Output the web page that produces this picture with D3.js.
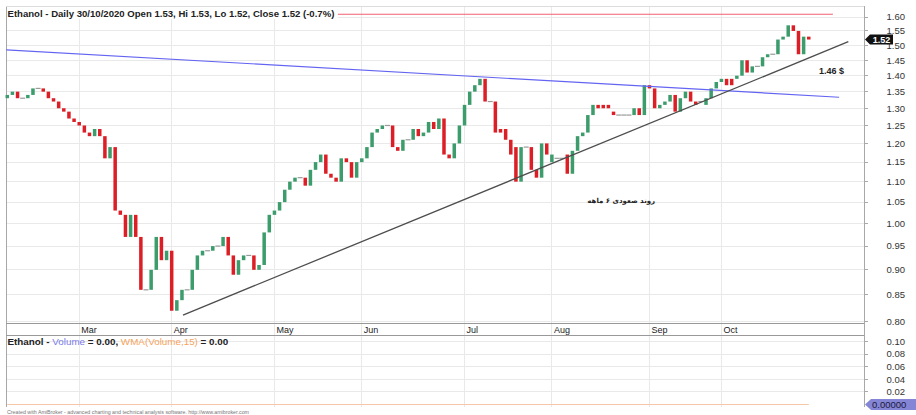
<!DOCTYPE html>
<html><head><meta charset="utf-8">
<script src="https://cdn.jsdelivr.net/npm/d3@7"></script>
<style>html,body{margin:0;padding:0;background:#fff;}svg{display:block;font-family:"Liberation Sans",Arial,sans-serif;}</style>
</head><body><svg id="c" width="916" height="415"></svg>
<script>
// ---------- DATA ----------
const dates = [
"2020-02-10","2020-02-11","2020-02-12","2020-02-13","2020-02-14","2020-02-18","2020-02-19","2020-02-20","2020-02-21","2020-02-24","2020-02-25","2020-02-26","2020-02-27","2020-02-28",
"2020-03-02","2020-03-03","2020-03-04","2020-03-05","2020-03-06","2020-03-09","2020-03-10","2020-03-11","2020-03-12","2020-03-13","2020-03-16","2020-03-17","2020-03-18","2020-03-19","2020-03-20","2020-03-23","2020-03-25","2020-03-27",
"2020-04-01","2020-04-02","2020-04-03","2020-04-06","2020-04-07","2020-04-08","2020-04-09","2020-04-13","2020-04-14","2020-04-15","2020-04-16","2020-04-17","2020-04-20","2020-04-21","2020-04-22","2020-04-23","2020-04-24","2020-04-27","2020-04-28","2020-04-29",
"2020-05-01","2020-05-04","2020-05-05","2020-05-06","2020-05-07","2020-05-08","2020-05-11","2020-05-12","2020-05-13","2020-05-14","2020-05-15","2020-05-18","2020-05-19","2020-05-20","2020-05-21","2020-05-22","2020-05-26",
"2020-06-01","2020-06-02","2020-06-03","2020-06-04","2020-06-05","2020-06-08","2020-06-09","2020-06-10","2020-06-11","2020-06-12","2020-06-15","2020-06-16","2020-06-17","2020-06-18","2020-06-19","2020-06-22","2020-06-23","2020-06-24","2020-06-25","2020-06-26",
"2020-07-01","2020-07-02","2020-07-06","2020-07-07","2020-07-08","2020-07-09","2020-07-10","2020-07-13","2020-07-14","2020-07-15","2020-07-16","2020-07-17","2020-07-20","2020-07-21","2020-07-22","2020-07-23","2020-07-24",
"2020-08-03","2020-08-04","2020-08-05","2020-08-06","2020-08-07","2020-08-10","2020-08-11","2020-08-12","2020-08-13","2020-08-14","2020-08-17","2020-08-18","2020-08-19","2020-08-20","2020-08-21","2020-08-24","2020-08-25","2020-08-26","2020-08-27",
"2020-09-01","2020-09-02","2020-09-03","2020-09-04","2020-09-08","2020-09-09","2020-09-10","2020-09-11","2020-09-14","2020-09-15","2020-09-16","2020-09-17","2020-09-18","2020-09-21",
"2020-10-05","2020-10-06","2020-10-07","2020-10-08","2020-10-09","2020-10-12","2020-10-13","2020-10-14","2020-10-15","2020-10-16","2020-10-19","2020-10-20","2020-10-22","2020-10-23","2020-10-26","2020-10-27","2020-10-29","2020-10-30"
];
const openPrices = [
1.33,1.34,1.35,1.33,1.33,1.34,1.36,1.36,1.35,1.33,1.32,1.30,1.29,1.27,
1.26,1.25,1.23,1.22,1.24,1.22,1.16,1.19,1.03,1.02,0.97,1.02,0.97,0.86,0.86,0.90,0.97,0.92,
0.94,0.82,0.84,0.86,0.86,0.90,0.93,0.94,0.94,0.95,0.95,0.97,0.93,0.89,0.92,0.93,0.93,0.90,0.91,0.98,
1.02,1.03,1.05,1.08,1.10,1.11,1.11,1.09,1.13,1.15,1.17,1.12,1.11,1.10,1.16,1.15,1.11,
1.15,1.16,1.19,1.23,1.24,1.25,1.25,1.19,1.18,1.21,1.21,1.24,1.22,1.23,1.26,1.24,1.27,1.17,1.16,1.20,
1.25,1.31,1.35,1.37,1.39,1.32,1.32,1.24,1.24,1.21,1.19,1.10,1.19,1.19,1.13,1.11,1.20,
1.15,1.16,1.16,1.17,1.12,1.18,1.22,1.23,1.28,1.31,1.31,1.31,1.29,1.28,1.28,1.28,1.28,1.30,1.28,
1.37,1.36,1.30,1.31,1.32,1.34,1.29,1.33,1.35,1.32,1.32,1.31,1.33,1.36,
1.38,1.39,1.39,1.39,1.40,1.45,1.41,1.43,1.43,1.46,1.47,1.47,1.52,1.53,1.57,1.55,1.47,1.53
];
const closePrices = [
1.34,1.35,1.33,1.33,1.34,1.36,1.36,1.35,1.33,1.32,1.30,1.29,1.27,1.26,
1.25,1.23,1.22,1.24,1.22,1.16,1.19,1.03,1.02,0.97,1.02,0.97,0.86,0.86,0.90,0.97,0.92,0.94,
0.82,0.84,0.86,0.86,0.90,0.93,0.94,0.94,0.95,0.95,0.97,0.93,0.89,0.92,0.93,0.93,0.90,0.91,0.98,1.02,
1.03,1.05,1.08,1.10,1.11,1.11,1.09,1.13,1.15,1.17,1.12,1.11,1.10,1.16,1.15,1.11,1.15,
1.16,1.19,1.23,1.24,1.25,1.25,1.19,1.18,1.21,1.21,1.24,1.22,1.23,1.26,1.24,1.27,1.17,1.16,1.20,1.25,
1.31,1.35,1.37,1.39,1.32,1.32,1.23,1.23,1.21,1.17,1.10,1.19,1.19,1.13,1.11,1.20,1.17,
1.17,1.16,1.16,1.12,1.18,1.22,1.23,1.28,1.31,1.30,1.30,1.30,1.28,1.28,1.28,1.28,1.30,1.28,1.37,
1.36,1.30,1.31,1.32,1.34,1.29,1.33,1.35,1.32,1.31,1.32,1.33,1.36,1.38,
1.39,1.37,1.37,1.40,1.45,1.41,1.43,1.43,1.46,1.47,1.47,1.52,1.53,1.57,1.55,1.47,1.53,1.52
];
const priceTicks = [0.80,0.85,0.90,0.95,1.00,1.05,1.10,1.15,1.20,1.25,1.30,1.35,1.40,1.45,1.50,1.55,1.60];
const volumeTicks = [0.02,0.04,0.06,0.08,0.10];
const volumeLast = 0.00;
const wmaLast = 0.00;
const lastClose = 1.52;
const resistanceLevel = 1.61;              // red horizontal line
const resistanceSpan = [0, 160.7];          // bar indexes
const downTrend = [[-0.2, 1.485], [161.9, 1.333]];   // blue line [barIndex, price]
const upTrend = [[34.2, 0.812], [163.7, 1.5125]];     // grey line [barIndex, price]
const trendNote = {bar: 158, price: 1.415, text: "1.46 $"};
const persianNote = {bar: 119.5, price: 1.053, text: "روند صعودی ۶ ماهه"};
const titleText = "Ethanol - Daily 30/10/2020 Open 1.53, Hi 1.53, Lo 1.52, Close 1.52 (-0.7%)";
const footerText = "Created with AmiBroker - advanced charting and technical analysis software. http://www.amibroker.com";
const blankBars = 10.75;

// ---------- LAYOUT ----------
const L = 6, R = 864, mainTop = 17, mainBot = 321.6, frameTop = 6;
const volTop = 341.5, volBot = 404.5, panelBot = 407;
const svg = d3.select("#c");
const n = dates.length;
const x = d3.scaleLinear().domain([-0.25, n - 1 + blankBars]).range([L, R]);
const y = d3.scaleLog().domain([0.80, 1.60]).range([mainBot, mainTop]);
const yv = d3.scaleLinear().domain([0, 0.10]).range([volBot, volTop]);
const parse = d3.timeParse("%Y-%m-%d");
const fmtMonth = d3.timeFormat("%b");
const monthStarts = d3.range(1, n).filter(i => dates[i].slice(5,7) !== dates[i-1].slice(5,7));

const GRID = "#e9e9e9";
svg.append("g").selectAll("line").data(priceTicks).join("line")
  .attr("x1", L).attr("x2", R).attr("y1", d => y(d)).attr("y2", d => y(d))
  .attr("stroke", GRID).attr("shape-rendering","crispEdges");
svg.append("g").selectAll("line").data(volumeTicks).join("line")
  .attr("x1", L).attr("x2", R).attr("y1", d => yv(d)).attr("y2", d => yv(d))
  .attr("stroke", GRID).attr("shape-rendering","crispEdges");
svg.append("g").selectAll("line").data(monthStarts).join("line")
  .attr("x1", i => x(i)).attr("x2", i => x(i)).attr("y1", frameTop).attr("y2", panelBot)
  .attr("stroke", GRID).attr("shape-rendering","crispEdges");

const frame = svg.append("g").attr("stroke","#a8a8a8").attr("shape-rendering","crispEdges");
frame.append("line").attr("x1",L).attr("x2",L).attr("y1",frameTop).attr("y2",panelBot);
frame.append("line").attr("x1",R).attr("x2",R).attr("y1",frameTop).attr("y2",panelBot);
frame.append("line").attr("x1",L).attr("x2",R).attr("y1",frameTop).attr("y2",frameTop).attr("stroke","#dcdcdc");
frame.append("line").attr("x1",L).attr("x2",R).attr("y1",323).attr("y2",323).attr("stroke","#999");
frame.append("line").attr("x1",L).attr("x2",R).attr("y1",335).attr("y2",335).attr("stroke","#999");

svg.append("g").selectAll("text").data(monthStarts).join("text")
  .attr("x", i => x(i) + 2).attr("y", 332.5)
  .attr("font-size", 9).attr("fill", "#222")
  .text(i => fmtMonth(parse(dates[i])));

const ax = svg.append("g");
ax.selectAll("line").data(priceTicks).join("line")
  .attr("x1", R).attr("x2", R + 4).attr("y1", d => y(d)).attr("y2", d => y(d))
  .attr("stroke","#aaa").attr("shape-rendering","crispEdges");
ax.selectAll("text").data(priceTicks).join("text")
  .attr("x", 905).attr("y", d => y(d)).attr("dy","0.35em").attr("text-anchor","end")
  .attr("font-size", 9.5).attr("fill","#333").text(d => d.toFixed(2));
const axv = svg.append("g");
axv.selectAll("line").data(volumeTicks).join("line")
  .attr("x1", R).attr("x2", R + 4).attr("y1", d => yv(d)).attr("y2", d => yv(d))
  .attr("stroke","#aaa").attr("shape-rendering","crispEdges");
axv.selectAll("text").data(volumeTicks).join("text")
  .attr("x", 905).attr("y", d => yv(d)).attr("dy","0.35em").attr("text-anchor","end")
  .attr("font-size", 9.5).attr("fill","#333").text(d => d.toFixed(2));

const bars = dates.map((d, i) => ({i, o: openPrices[i], c: closePrices[i]}));
const cg = svg.append("g");
cg.selectAll("rect").data(bars.filter(b => b.o !== b.c)).join("rect")
  .attr("x", b => x(b.i) - 1.75).attr("width", 3.5)
  .attr("y", b => y(Math.max(b.o, b.c)))
  .attr("height", b => Math.max(1, y(Math.min(b.o, b.c)) - y(Math.max(b.o, b.c))))
  .attr("fill", b => b.c > b.o ? "#3c9c6c" : "#dc1f26");
cg.selectAll("line").data(bars.filter(b => b.o === b.c)).join("line")
  .attr("x1", b => x(b.i) - 2.5).attr("x2", b => x(b.i) + 2.5)
  .attr("y1", b => y(b.o)).attr("y2", b => y(b.o))
  .attr("stroke", "#9a9a9a").attr("stroke-width", 1.2);

svg.append("line").attr("x1", x(0)).attr("x2", x(n-1))
  .attr("y1", yv(wmaLast)).attr("y2", yv(wmaLast)).attr("stroke","#f7c6a6").attr("stroke-width",1.2);

const line = d3.line().x(d => x(d[0])).y(d => y(d[1]));
svg.append("path").attr("d", line(downTrend)).attr("fill","none").attr("stroke","#6464f2").attr("stroke-width",1.2);
svg.append("path").attr("d", line(upTrend)).attr("fill","none").attr("stroke","#4d4d4d").attr("stroke-width",1.3);
svg.append("path").attr("d", line(resistanceSpan.map(b => [b, resistanceLevel])))
  .attr("fill","none").attr("stroke","#ef6070").attr("stroke-width",1.1);

function fit(sel, target) {
  const w = sel.node().getComputedTextLength();
  sel.attr("font-size", parseFloat(sel.attr("font-size")) * target / w);
}

const tg = svg.append("g");
const tbg = tg.append("rect").attr("fill","#fff");
const title = tg.append("text").attr("x", 7.5).attr("y", 16.5).attr("font-size", 9)
  .attr("font-weight","bold").attr("fill","#222").text(titleText);
fit(title, 327);
const bb = title.node().getBBox();
tbg.attr("x", L + 1).attr("y", frameTop + 1).attr("width", bb.width + 4).attr("height", 12);

svg.append("text").attr("x", x(trendNote.bar)).attr("y", y(trendNote.price)).attr("dy","0.35em")
  .attr("font-size", 9).attr("font-weight","bold").attr("fill","#222").text(trendNote.text);
svg.append("text").attr("x", x(persianNote.bar)).attr("y", y(persianNote.price)).attr("dy","0.35em")
  .attr("text-anchor","middle").attr("font-family","'DejaVu Sans', sans-serif")
  .attr("font-size", 7).attr("font-weight","bold").attr("fill","#222").text(persianNote.text);

const yc = y(lastClose);
svg.append("path").attr("d", `M${R+1},${yc} L${R+6},${yc-5} L${R+29},${yc-5} L${R+29},${yc+5} L${R+6},${yc+5} Z`).attr("fill","#111");
svg.append("text").attr("x", R + 17.5).attr("y", yc).attr("dy","0.35em").attr("text-anchor","middle")
  .attr("font-size", 9).attr("font-weight","bold").attr("fill","#fff").text(lastClose.toFixed(2));

const yz = yv(volumeLast);
svg.append("path").attr("d", `M${R+1},${yz} L${R+7},${yz-5.5} L916,${yz-5.5} L916,${yz+5.5} L${R+7},${yz+5.5} Z`).attr("fill","#8585d6");
svg.append("text").attr("x", R + 8).attr("y", yz).attr("dy","0.35em")
  .attr("font-size", 9.5).attr("fill","#1a1a40").text(volumeLast.toFixed(5));

const vt = svg.append("text").attr("x", 7.5).attr("y", 345).attr("font-size", 9).attr("font-weight","bold").attr("fill","#222");
vt.append("tspan").text("Ethanol - ");
vt.append("tspan").attr("fill","#7b7be8").attr("font-weight","normal").text("Volume");
vt.append("tspan").text(" = " + volumeLast.toFixed(2) + ", ");
vt.append("tspan").attr("fill","#f6a35c").attr("font-weight","normal").text("WMA(Volume,15)");
vt.append("tspan").text(" = " + wmaLast.toFixed(2));
fit(vt, 221);

const ft = svg.append("text").attr("x", 7).attr("y", 413.5).attr("font-size", 5).attr("fill","#777").text(footerText);
fit(ft, 243);
</script></body></html>
